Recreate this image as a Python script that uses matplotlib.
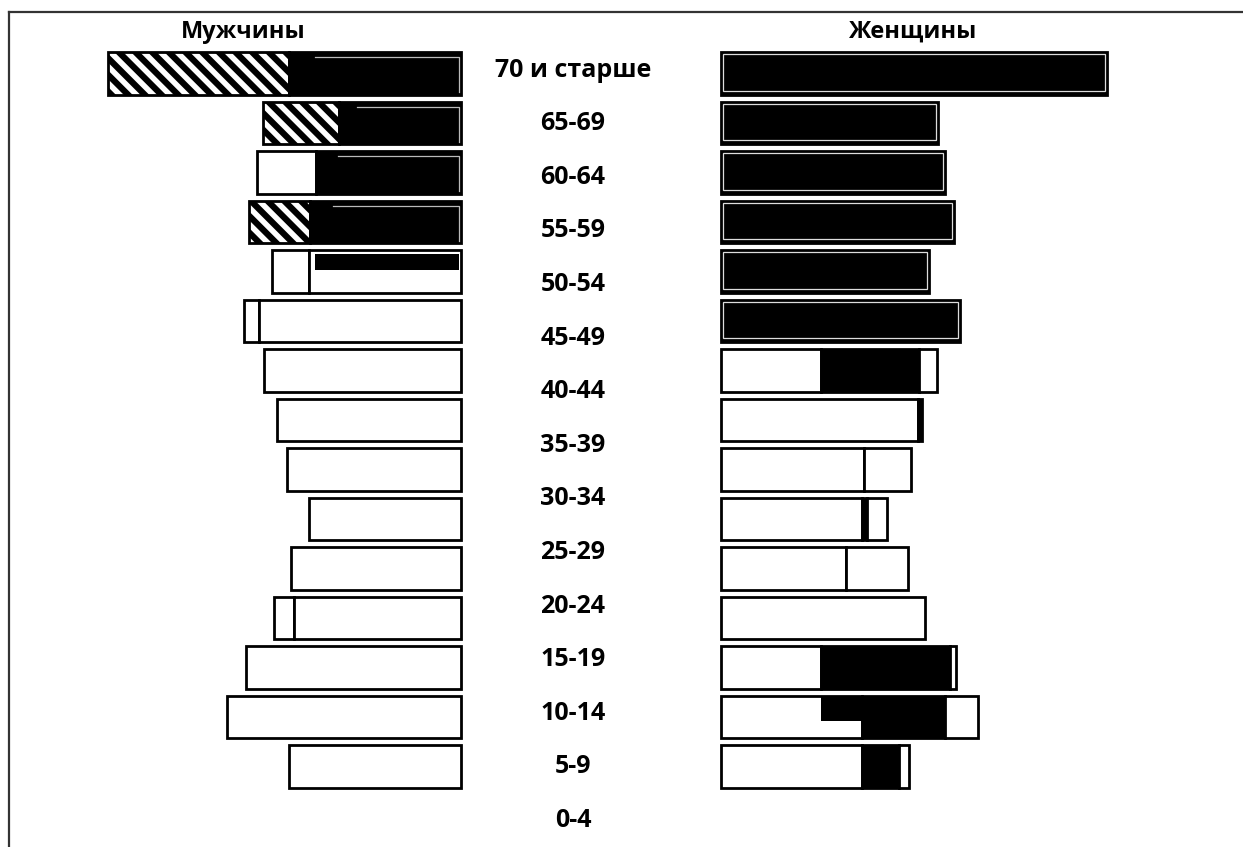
import matplotlib.pyplot as plt
from matplotlib.lines import Line2D

plt.rcParams['font.family'] = ['Open Sans', 'DejaVu Sans']
plt.rcParams['hatch.linewidth'] = 4.5

ages = ['70 и старше', '65-69', '60-64', '55-59', '50-54', '45-49', '40-44',
        '35-39', '30-34', '25-29', '20-24', '15-19', '10-14', '5-9', '0-4']

# мужчины: сегмент у центра и внешний сегмент
male_inner = [17.2, 12.2, 14.5, 15.1, 15.2, 20.2, 19.7, 18.4, 17.4, 15.2, 17.0, 16.7, 21.5, 23.4, 17.2]
male_inner_kind = ['black', 'black', 'black', 'black', 'white', 'white', 'white', 'white',
                   'white', 'white', 'white', 'white', 'white', 'white', 'white']
male_outer = [18.1, 7.6, 5.9, 6.1, 3.7, 1.5, 0, 0, 0, 0, 0, 2.0, 0, 0, 0]
male_outer_kind = ['hatch', 'hatch', 'white', 'hatch', 'white', 'white', 'white', 'white',
                   'white', 'white', 'white', 'white', 'white', 'white', 'white']
male_strip = [0, 0, 0, 0, 14.4, 0, 0, 0, 0, 0, 0, 0, 0, 0, 0]

# женщины: три сегмента от центра
female_seg1 = [38.6, 21.7, 22.4, 23.3, 20.8, 23.9, 10.0, 19.7, 14.3, 14.1, 12.5, 20.4, 10.0, 14.1, 14.1]
female_seg1_kind = ['black'] * 6 + ['white'] * 9
female_seg2 = [0, 0, 0, 0, 0, 0, 9.8, 0.4, 4.7, 0.5, 6.2, 0, 12.9, 8.3, 3.7]
female_seg2_kind = ['white'] * 6 + ['black', 'black', 'white', 'black', 'white', 'white',
                                    'black', 'black', 'black']
female_seg3 = [0, 0, 0, 0, 0, 0, 1.8, 0, 0, 2.0, 0, 0, 0.6, 3.3, 1.0]
female_step_start = [0] * 13 + [10.0, 0]
female_step_len = [0] * 13 + [4.1, 0]

MID_M = 46.1
MID_F = 72.1
H = 0.86


def kw(kind):
    if kind == 'black':
        return dict(color='black', edgecolor='black')
    if kind == 'hatch':
        return dict(color='white', edgecolor='black', hatch='\\\\')
    return dict(color='white', edgecolor='black')


fig = plt.figure(figsize=(12.43, 8.47), dpi=100)
ax = fig.add_axes([0, 0, 1, 1])
ax.set_xlim(0, 124.3)
ax.set_ylim(15.626, -1.485)
ax.axis('off')

for i in range(len(male_inner)):
    # мужчины
    if male_outer[i] > 0:
        ax.barh(i, -male_outer[i], left=MID_M - male_inner[i], height=H,
                linewidth=2, **kw(male_outer_kind[i]))
    ax.barh(i, -male_inner[i], left=MID_M, height=H, linewidth=2, **kw(male_inner_kind[i]))
    if male_inner_kind[i] == 'black':
        top = i - H / 2 + 0.1
        ax.plot([MID_M - male_inner[i] * 0.85, MID_M - 0.2, MID_M - 0.2],
                [top, top, i + H / 2 - 0.05], color='#bbbbbb', lw=0.9)
    if male_strip[i] > 0:
        ax.barh(i - H / 2 + 0.08 + 0.16, -male_strip[i], left=MID_M - 0.2, height=0.32,
                color='black', linewidth=0)

    # женщины
    x = MID_F
    for j, (w, k) in enumerate(((female_seg1[i], female_seg1_kind[i]),
                                (female_seg2[i], female_seg2_kind[i]),
                                (female_seg3[i], 'white'))):
        if w > 0:
            ax.barh(i, w, left=x, height=H, linewidth=2, **kw(k))
            if k == 'black' and j == 0:
                ax.barh(i - 0.02, w - 0.4, left=x + 0.2, height=H - 0.12, fill=False,
                        edgecolor='#dddddd', linewidth=0.9)
            x += w
    if female_step_len[i] > 0:
        ax.barh(i - H / 2 + 0.27, female_step_len[i], left=MID_F + female_step_start[i],
                height=0.5, color='black', linewidth=0)

for i, lab in enumerate(ages):
    ax.text(57.3, (70 + 53.6 * i - 73.5) / 49.5, lab, ha='center', va='center',
            fontsize=18, fontweight='bold')

ax.text(24.3, -0.84, 'Мужчины', ha='center', va='center', fontsize=17, fontweight='bold')
ax.text(91.3, -0.84, 'Женщины', ha='center', va='center', fontsize=17, fontweight='bold')

# рамка
fig.add_artist(Line2D([9 / 1243, 1], [1 - 12 / 847, 1 - 12 / 847], color='#333333', lw=1.6))
fig.add_artist(Line2D([9 / 1243, 9 / 1243], [0, 1 - 12 / 847], color='#333333', lw=1.6))

fig.savefig('out.png', dpi=100)
